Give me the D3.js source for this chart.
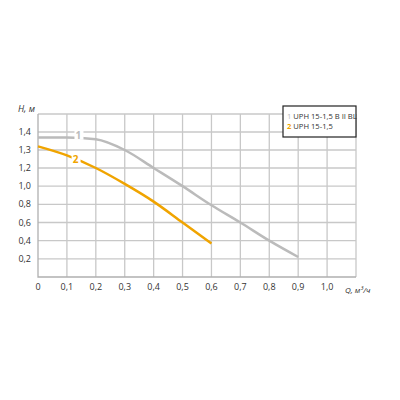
<!DOCTYPE html><html><head><meta charset="utf-8"><script src="https://d3js.org/d3.v7.min.js"></script>
<style>body{margin:0;background:#fff}text{font-family:"Open Sans",sans-serif;fill:#333}</style></head><body><svg id="c" width="400" height="400"></svg><script>
const xTicks=[0,0.1,0.2,0.3,0.4,0.5,0.6,0.7,0.8,0.9,1.0];
const yTicks=[0.2,0.4,0.6,0.8,1.0,1.2,1.3,1.4];
const q1=[0,0.1,0.2,0.3,0.4,0.5,0.6,0.7,0.8,0.9];
const h1=[1.37,1.37,1.36,1.3,1.2,1.0,0.79,0.6,0.4,0.22];
const q2=[0,0.1,0.2,0.3,0.4,0.5,0.6];
const h2=[1.32,1.27,1.2,1.025,0.83,0.6,0.37];
const names=["UPH 15-1,5 B II BL","UPH 15-1,5"];
const colors=["#bbbbbb","#f0a400"];
const svg=d3.select("#c");
const x=d3.scaleLinear().domain([0,1.1]).range([38,356]);
const y=d3.scaleLinear().domain([0,1.2,1.5]).range([277,168,114]);
const fmt=d=>d===0?"0":d.toFixed(1).replace(".",",");
const grid=svg.append("g").attr("fill","none").attr("stroke","#c8c8c8").attr("stroke-width",1.3);
xTicks.slice(1).concat([1.1]).forEach(v=>grid.append("path").attr("d",`M${x(v)},${y(0)}V${y(1.5)}`));
yTicks.concat([1.5]).forEach(v=>grid.append("path").attr("d",`M${x(0)},${y(v)}H${x(1.1)}`));
grid.append("path").attr("d",`M${x(0)},${y(1.5)}V${y(0)}H${x(1.1)}`).attr("stroke","#b0b0b0");
xTicks.forEach(v=>svg.append("text").attr("x",x(v)).attr("y",y(0)+13).attr("text-anchor","middle").attr("font-size",9).text(fmt(v)));
yTicks.forEach(v=>svg.append("text").attr("x",31).attr("y",y(v)+3).attr("text-anchor","end").attr("font-size",9).text(fmt(v)));
svg.append("text").attr("x",18).attr("y",112).attr("font-size",9).attr("font-style","italic").text("H, м");
svg.append("text").attr("x",345).attr("y",293).attr("font-size",8).attr("font-style","italic").text("Q, м³/ч");
const line=d3.line().x(d=>x(d[0])).y(d=>y(d[1])).curve(d3.curveMonotoneX);
[[q1,h1],[q2,h2]].forEach(([q,h],i)=>svg.append("path").attr("d",line(q.map((v,j)=>[v,h[j]]))).attr("fill","none").attr("stroke",colors[i]).attr("stroke-width",2.5));
[[0.14,1.385,"1"],[0.13,1.25,"2"]].forEach(([a,b,t],i)=>{
 svg.append("rect").attr("x",x(a)-4).attr("y",y(b)-6).attr("width",9).attr("height",11).attr("fill","#fff");
 svg.append("text").attr("x",x(a)).attr("y",y(b)+4).attr("text-anchor","middle").attr("font-size",10).attr("font-weight","bold").style("fill",colors[i]).text(t);});
svg.append("rect").attr("x",283).attr("y",106).attr("width",73).attr("height",31).attr("fill","#fff").attr("stroke","#222").attr("stroke-width",1.2);
names.forEach((n,i)=>{const t=svg.append("text").attr("x",287).attr("y",119+i*10).attr("font-size",7.6);
 t.append("tspan").style("fill",colors[i]).attr("font-weight",i?"bold":"normal").text((i+1)+" ");t.append("tspan").text(n);});
</script></body></html>
